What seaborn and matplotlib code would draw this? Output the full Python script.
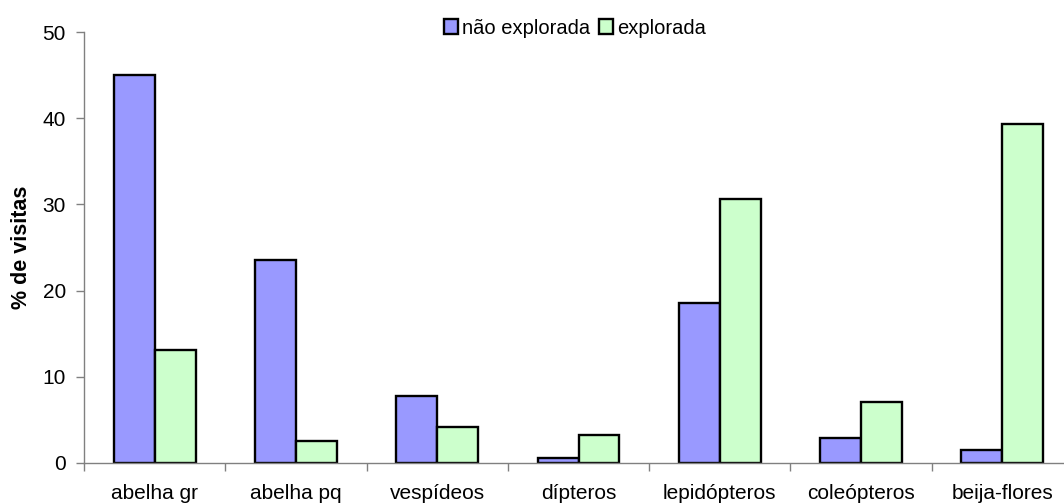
import matplotlib
matplotlib.use("Agg")
import matplotlib.pyplot as plt
import seaborn as sns
import pandas as pd
import numpy as np

categories = ["abelha gr", "abelha pq", "vespídeos", "dípteros",
              "lepidópteros", "coleópteros", "beija-flores"]
nao_explorada = [45.0, 23.5, 7.7, 0.6, 18.6, 2.9, 1.5]
explorada = [13.1, 2.5, 4.1, 3.2, 30.6, 7.0, 39.4]
series_names = ["não explorada", "explorada"]
y_ticks = [0, 10, 20, 30, 40, 50]

df = pd.DataFrame({
    "grupo": categories * 2,
    "tipo": [series_names[0]] * len(categories) + [series_names[1]] * len(categories),
    "visitas": nao_explorada + explorada,
})

sns.set_style("white")
plt.rcParams["font.family"] = ["Liberation Sans", "DejaVu Sans"]
plt.rcParams["text.color"] = "black"
plt.rcParams["xtick.labelcolor"] = "black"
plt.rcParams["ytick.labelcolor"] = "black"

fig = plt.figure(figsize=(10.64, 5.03), dpi=100)
ax = fig.add_axes([84 / 1064, 40.3 / 503, 989 / 1064, 430.4 / 503])

palette = {"não explorada": "#9999FF", "explorada": "#CCFFCC"}
sns.barplot(data=df, x="grupo", y="visitas", hue="tipo", order=categories,
            hue_order=series_names, palette=palette, width=0.58,
            edgecolor="black", linewidth=1.7, saturation=1, ax=ax)

ax.set_xlim(-0.5, len(categories) - 0.5)
ax.set_ylim(0, 50)
ax.set_yticks(y_ticks)
ax.set_ylabel("")
ax.set_xlabel("")
fig.text(22 / 1064, 1 - 247.5 / 503, "% de visitas", rotation=90,
         fontsize=15.5, fontweight="bold", ha="center", va="center", color="black")

# Category labels centred, tick marks on category boundaries
ax.set_xticks(range(len(categories)))
ax.set_xticklabels(categories, fontsize=15, color="black")
ax.tick_params(axis="x", which="major", length=0, pad=15)
ax.set_xticks(np.arange(-0.5, len(categories), 1.0), minor=True)
ax.tick_params(axis="x", which="minor", length=6, width=1, color="#808080",
               direction="out", bottom=True)
ax.tick_params(axis="y", length=6, width=1, color="#808080", direction="out",
               left=True, labelsize=15, pad=7, labelcolor="black")

for side in ["top", "right"]:
    ax.spines[side].set_visible(False)
for side in ["left", "bottom"]:
    ax.spines[side].set_color("#808080")
    ax.spines[side].set_linewidth(1)

leg = ax.legend(title=None, ncol=2, loc="center",
                bbox_to_anchor=(575 / 1064, 1 - 28 / 503),
                bbox_transform=fig.transFigure, frameon=False, fontsize=14.5,
                handlelength=0.7, handleheight=0.7, handletextpad=0.2,
                columnspacing=0.4, borderpad=0)
for t in leg.get_texts():
    t.set_color("black")
for h in leg.legend_handles:
    h.set_edgecolor("black")
    h.set_linewidth(1.7)

fig.savefig("out.png", dpi=100)
